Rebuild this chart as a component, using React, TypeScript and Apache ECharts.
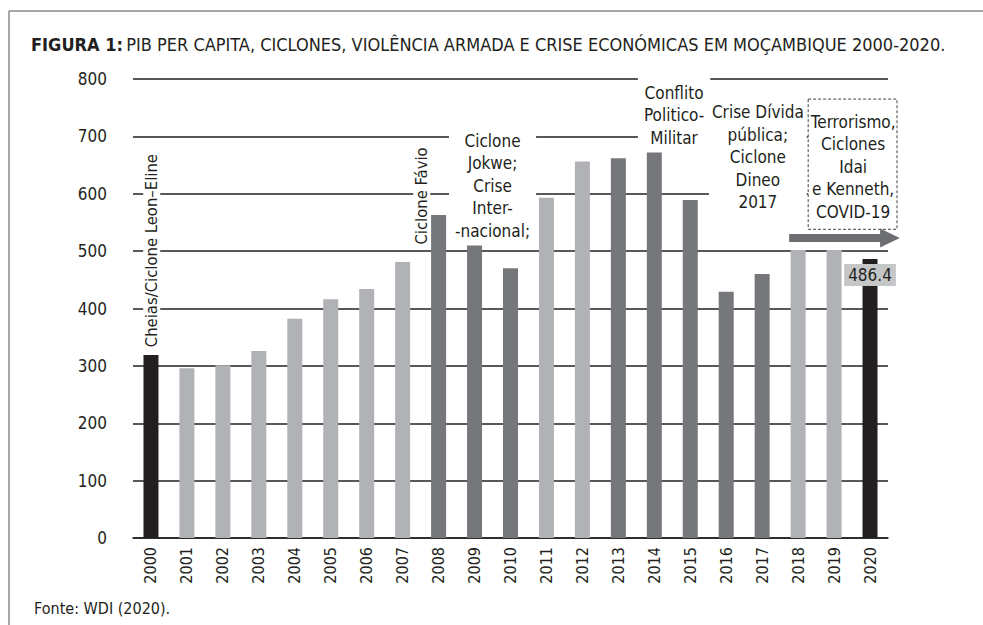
import React, { useEffect, useRef } from "react";
import * as echarts from "echarts";

const FONT = '"Liberation Sans Narrow", "DejaVu Sans Condensed", "Open Sans", sans-serif';
const INK = "#231f20";

const years = ["2000","2001","2002","2003","2004","2005","2006","2007","2008","2009","2010","2011","2012","2013","2014","2015","2016","2017","2018","2019","2020"];
const gdpPerCapita = [319, 296, 301, 326, 382, 416, 434, 481, 563, 510, 470, 593, 656, 662, 672, 589, 429, 460, 502, 502, 486.4];
// kind: 0 = light (normal), 1 = dark (crisis), 2 = black (extreme)
const barKind = [2, 0, 0, 0, 0, 0, 0, 0, 1, 1, 1, 0, 0, 1, 1, 1, 1, 1, 0, 0, 2];
const kindColors = ["#b1b2b5", "#76777a", "#231f20"];
const yTicks = [0, 100, 200, 300, 400, 500, 600, 700, 800];

const titleBold = "FIGURA 1:";
const titleRest = "PIB PER CAPITA, CICLONES, VIOLÊNCIA ARMADA E CRISE ECONÓMICAS EM MOÇAMBIQUE 2000-2020.";
const sourceText = "Fonte: WDI (2020).";

// annotations: pos in category-band units from the grid's left edge, value in data units
const verticalNotes = [
  { text: "Cheias/Ciclone Leon–Eline", pos: 0.52, value: 329 },
  { text: "Ciclone Fávio", pos: 8.03, value: 508 },
];
const blockNotes = [
  { text: "Ciclone\nJokwe;\nCrise\nInter-\n-nacional;", pos: 10.0, value: 614, pad: [2, 6, 2, 6] },
  { text: "Conflito\nPolitico-\nMilitar", pos: 15.05, value: 737, pad: [16, 6, 0, 6] },
  { text: "Crise Dívida\npública;\nCiclone\nDineo\n2017", pos: 17.38, value: 664, pad: [2, 3, 2, 3] },
];
const dashedNote = { text: "Terrorismo,\nCiclones\nIdai\ne Kenneth,\nCOVID-19", pos: 20.03, value: 647, box: [18.78, 21.25, 765, 538] };
const trendArrow = { from: 18.25, headBase: 20.78, tip: 21.33, value: 523 };

export default function App() {
  const ref = useRef<HTMLDivElement>(null);
  useEffect(() => {
    if (!ref.current) return;
    const chart = echarts.init(ref.current, null, { renderer: "svg" });
    chart.setOption({
      animation: false,
      backgroundColor: "#ffffff",
      textStyle: { fontFamily: FONT },
      grid: { left: 133, right: 95, top: 79, bottom: 87, containLabel: false },
      xAxis: {
        type: "category",
        data: years,
        axisLine: { lineStyle: { color: INK, width: 1.5 } },
        axisTick: { show: false },
        axisLabel: { rotate: 90, margin: 9, fontSize: 16, color: INK, fontFamily: FONT },
      },
      yAxis: {
        type: "value",
        min: yTicks[0],
        max: yTicks[yTicks.length - 1],
        interval: 100,
        axisLine: { show: false },
        axisTick: { show: false },
        axisLabel: { margin: 26, fontSize: 17, color: INK, fontFamily: FONT },
        splitLine: { lineStyle: { color: INK, width: 1.5 } },
      },
      series: [
        {
          type: "bar",
          barWidth: 15,
          z: 20,
          data: gdpPerCapita.map((v, i) => ({
            value: v,
            itemStyle: { color: kindColors[barKind[i]] },
            label:
              i === gdpPerCapita.length - 1
                ? {
                    show: true,
                    position: "insideTop",
                    distance: 5,
                    formatter: "{c}",
                    fontSize: 17,
                    color: INK,
                    fontFamily: FONT,
                    backgroundColor: "#c5c6c8",
                    padding: [3, 4, 2, 4],
                  }
                : { show: false },
          })),
        },
      ],
    });

    const p0 = chart.convertToPixel({ gridIndex: 0 }, [0, 0]) as number[];
    const p1 = chart.convertToPixel({ gridIndex: 0 }, [1, 0]) as number[];
    const band = p1[0] - p0[0];
    const left = p0[0] - band / 2;
    const px = (pos: number) => left + pos * band;
    const py = (v: number) => (chart.convertToPixel({ gridIndex: 0 }, [0, v]) as number[])[1];

    const graphics: any[] = [];
    // frame
    graphics.push({ type: "line", shape: { x1: 9, y1: 11, x2: 983, y2: 11 }, style: { stroke: "#8a8a8a", lineWidth: 1.5 } });
    graphics.push({ type: "line", shape: { x1: 9, y1: 11, x2: 9, y2: 625 }, style: { stroke: "#8a8a8a", lineWidth: 1.5 } });
    // title
    graphics.push({
      type: "text",
      x: 31,
      y: 44,
      style: {
        text: `{b|${titleBold}} {r|${titleRest}}`,
        textVerticalAlign: "middle",
        fill: INK,
        rich: {
          b: { fontFamily: FONT, fontWeight: "bold", fontSize: 18, fill: INK },
          r: { fontFamily: FONT, fontSize: 18, fill: INK },
        },
      },
    });
    graphics.push({
      type: "text",
      x: 34,
      y: 608,
      style: { text: sourceText, fontFamily: FONT, fontSize: 16, fill: INK, textVerticalAlign: "middle" },
    });
    verticalNotes.forEach((n) => {
      graphics.push({
        type: "text",
        x: px(n.pos),
        y: py(n.value),
        rotation: Math.PI / 2,
        style: {
          text: n.text,
          fontFamily: FONT,
          fontSize: 16.5,
          fill: INK,
          textAlign: "left",
          textVerticalAlign: "middle",
          backgroundColor: "#ffffff",
          padding: [0, 2, 0, 2],
        },
        z: 10,
      });
    });
    blockNotes.forEach((n) => {
      graphics.push({
        type: "text",
        x: px(n.pos),
        y: py(n.value),
        style: {
          text: n.text,
          fontFamily: FONT,
          fontSize: 17,
          lineHeight: 22.5,
          fill: INK,
          align: "center",
          verticalAlign: "middle",
          backgroundColor: "#ffffff",
          padding: n.pad,
        },
        z: 10,
      });
    });
    const b = dashedNote.box;
    graphics.push({
      type: "rect",
      shape: { x: px(b[0]), y: py(b[2]), width: px(b[1]) - px(b[0]), height: py(b[3]) - py(b[2]) },
      style: { fill: "#ffffff", stroke: "#444", lineWidth: 1, lineDash: [3, 2] },
      z: 10,
    });
    graphics.push({
      type: "text",
      x: px(dashedNote.pos),
      y: py(dashedNote.value),
      style: {
        text: dashedNote.text,
        fontFamily: FONT,
        fontSize: 17,
        lineHeight: 22.5,
        fill: INK,
        align: "center",
        verticalAlign: "middle",
      },
      z: 11,
    });
    const ay = py(trendArrow.value);
    graphics.push({
      type: "polygon",
      shape: {
        points: [
          [px(trendArrow.from), ay - 4],
          [px(trendArrow.headBase), ay - 4],
          [px(trendArrow.headBase), ay - 9.5],
          [px(trendArrow.tip), ay],
          [px(trendArrow.headBase), ay + 9.5],
          [px(trendArrow.headBase), ay + 4],
          [px(trendArrow.from), ay + 4],
        ],
      },
      style: { fill: "#6d6e71" },
      z: 12,
    });
    chart.setOption({ graphic: graphics });

    return () => chart.dispose();
  }, []);
  return <div ref={ref} style={{ position: "absolute", left: 0, top: 0, width: 983, height: 625 }} />;
}
